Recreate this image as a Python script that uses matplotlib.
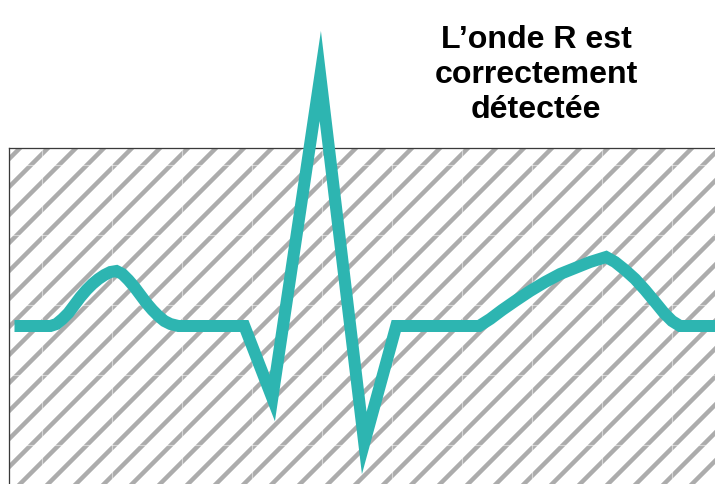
import numpy as np
import matplotlib.pyplot as plt
from matplotlib.patches import Rectangle

# Points du tracé ECG (temps en ms, amplitude en mV)
# onde P
p_temps = [6, 42, 48, 54, 60, 66, 72, 78, 84, 90, 96, 102, 108, 114, 120, 126, 132, 138,
           144, 150, 156, 162, 170]
p_ampl = [0, 0, 0.01, 0.035, 0.065, 0.105, 0.145, 0.18, 0.21, 0.235, 0.255, 0.27, 0.275,
          0.26, 0.23, 0.195, 0.155, 0.115, 0.08, 0.05, 0.025, 0.01, 0]
# complexe QRS
qrs_temps = [236, 264, 312, 356, 388]
qrs_ampl = [0, -0.36, 1.25, -0.585, 0]
# onde T
t_temps = [471, 482, 494, 507, 522, 537, 552, 567, 582, 598, 607, 617, 627, 637, 647,
           656, 664, 672, 712]
t_ampl = [0, 0.035, 0.08, 0.125, 0.175, 0.22, 0.26, 0.29, 0.32, 0.345, 0.32, 0.28,
          0.235, 0.18, 0.12, 0.065, 0.025, 0, 0]

titre = 'L’onde R est\ncorrectement\ndétectée'

temps = p_temps + qrs_temps + t_temps
amplitude = p_ampl + qrs_ampl + t_ampl

DPI = 84
plt.rcParams['font.family'] = ['Liberation Sans', 'DejaVu Sans']
plt.rcParams['hatch.linewidth'] = 3.8

fig = plt.figure(figsize=(715 / DPI, 484 / DPI), dpi=DPI)
ax = fig.add_axes([8.5 / 715, 0, 1 - 8.5 / 715, 336 / 484])
ax.set_xlim(0, 707)
ax.set_ylim(-0.79, 0.89)

# fond hachuré gris
ax.add_patch(Rectangle((0, 0), 1, 1, transform=ax.transAxes, facecolor='white',
                       edgecolor='#acacac', hatch='/', lw=0, zorder=0))

# raccords discrets du motif (quadrillage blanc)
ax.set_xticks(np.arange(34, 707, 70))
ax.set_yticks([0.805, 0.455, 0.105, -0.245, -0.595])
ax.grid(True, color='white', alpha=0.5, lw=1.0)
ax.tick_params(left=False, bottom=False, labelleft=False, labelbottom=False)

for s in ['right', 'bottom']:
    ax.spines[s].set_visible(False)
for s in ['left', 'top']:
    ax.spines[s].set_color('#3a3a3a')
    ax.spines[s].set_linewidth(1.1)

# le tracé, avec des pointes en onglet
ax.plot(temps, amplitude, color='#2db5b1', lw=12 * 72 / DPI,
        solid_joinstyle='miter', solid_capstyle='butt', clip_on=False, zorder=5)

fig.text(536 / 715, 1 - 75 / 484, titre, ha='center', va='center', multialignment='center',
         fontsize=27.5, fontweight='bold', linespacing=1.2)

fig.savefig('out.png', dpi=DPI)
